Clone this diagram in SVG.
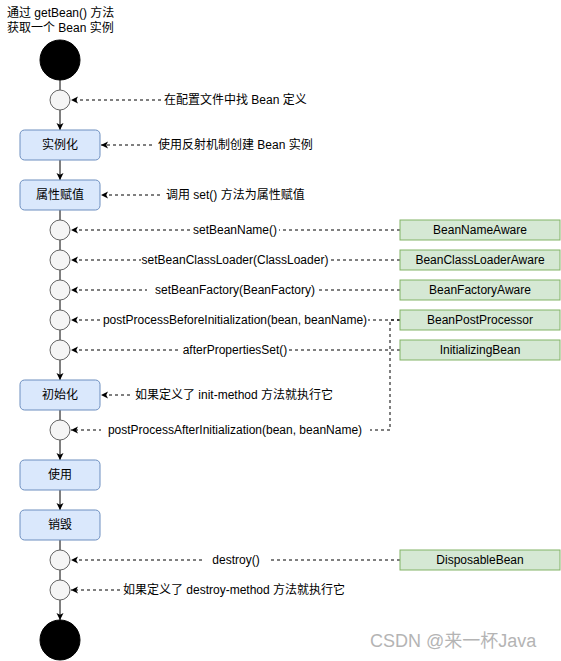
<svg xmlns="http://www.w3.org/2000/svg" width="561" height="661" viewBox="0 0 561 661">
<style>
text{font-family:"Liberation Sans","Noto Sans CJK SC",sans-serif;font-size:12px;fill:#000}
.c{text-anchor:middle}
.box{fill:#dae8fc;stroke:#6c8ebf;stroke-width:1}
.grn{fill:#d5e8d4;stroke:#82b366;stroke-width:1}
.pt{fill:#f5f5f5;stroke:#666666;stroke-width:1}
.blk{fill:#000;stroke:#000}
.ln{fill:none;stroke:#000;stroke-width:1}
.ds{fill:none;stroke:#000;stroke-width:1;stroke-dasharray:3 3}
.bg{fill:#fff}
.wm{font-size:18px;fill:#b4b4b4}
</style>
<defs>
<marker id="ar" markerWidth="8" markerHeight="8" refX="7" refY="3.5" orient="auto" markerUnits="userSpaceOnUse">
<path d="M0,0 L7,3.5 L0,7 L1.75,3.5 Z" fill="#000"/>
</marker>
</defs>
<rect width="561" height="661" fill="#fff"/>
<text x="7" y="17">通过 getBean() 方法</text>
<text x="7" y="32">获取一个 Bean 实例</text>
<g id="connectors">
<line class="ln" x1="60" y1="80" x2="60" y2="90"/>
<line class="ln" x1="60" y1="110" x2="60" y2="130" marker-end="url(#ar)"/>
<line class="ln" x1="60" y1="160" x2="60" y2="180" marker-end="url(#ar)"/>
<line class="ln" x1="60" y1="210" x2="60" y2="220"/>
<line class="ln" x1="60" y1="240" x2="60" y2="250"/>
<line class="ln" x1="60" y1="270" x2="60" y2="280"/>
<line class="ln" x1="60" y1="300" x2="60" y2="310"/>
<line class="ln" x1="60" y1="330" x2="60" y2="340"/>
<line class="ln" x1="60" y1="360" x2="60" y2="380" marker-end="url(#ar)"/>
<line class="ln" x1="60" y1="410" x2="60" y2="420"/>
<line class="ln" x1="60" y1="440" x2="60" y2="460" marker-end="url(#ar)"/>
<line class="ln" x1="60" y1="490" x2="60" y2="510" marker-end="url(#ar)"/>
<line class="ln" x1="60" y1="540" x2="60" y2="550"/>
<line class="ln" x1="60" y1="570" x2="60" y2="580"/>
<line class="ln" x1="60" y1="600" x2="60" y2="620" marker-end="url(#ar)"/>
<line class="ds" x1="161" y1="100" x2="71" y2="100" marker-end="url(#ar)"/>
<line class="ds" x1="152" y1="145" x2="101" y2="145" marker-end="url(#ar)"/>
<line class="ds" x1="160" y1="195" x2="101" y2="195" marker-end="url(#ar)"/>
<line class="ds" x1="400" y1="230" x2="71" y2="230" marker-end="url(#ar)"/>
<line class="ds" x1="400" y1="260" x2="71" y2="260" marker-end="url(#ar)"/>
<line class="ds" x1="400" y1="290" x2="71" y2="290" marker-end="url(#ar)"/>
<line class="ds" x1="400" y1="320" x2="71" y2="320" marker-end="url(#ar)"/>
<line class="ds" x1="400" y1="350" x2="71" y2="350" marker-end="url(#ar)"/>
<polyline class="ds" points="400,320 390,320 390,430 71,430" marker-end="url(#ar)"/>
<line class="ds" x1="130" y1="395" x2="101" y2="395" marker-end="url(#ar)"/>
<line class="ds" x1="400" y1="560" x2="71" y2="560" marker-end="url(#ar)"/>
<line class="ds" x1="120" y1="590" x2="71" y2="590" marker-end="url(#ar)"/>
<rect class="bg" x="191" y="222" width="88" height="16"/>
<text class="c" x="235" y="234">setBeanName()</text>
<rect class="bg" x="141" y="252" width="188" height="16"/>
<text class="c" x="235" y="264">setBeanClassLoader(ClassLoader)</text>
<rect class="bg" x="147" y="282" width="172" height="16"/>
<text class="c" x="235" y="294">setBeanFactory(BeanFactory)</text>
<rect class="bg" x="102" y="312" width="266" height="16"/>
<text class="c" x="235" y="324">postProcessBeforeInitialization(bean, beanName)</text>
<rect class="bg" x="181" y="342" width="108" height="16"/>
<text class="c" x="235" y="354">afterPropertiesSet()</text>
<rect class="bg" x="101" y="422" width="269" height="16"/>
<text class="c" x="235" y="434">postProcessAfterInitialization(bean, beanName)</text>
<rect class="bg" x="202" y="552" width="68" height="16"/>
<text class="c" x="236" y="564">destroy()</text>
</g>
<g id="start"><circle class="blk" cx="60" cy="60" r="20"/></g>
<g id="p0"><circle class="pt" cx="60" cy="100" r="10"/></g>
<g id="t0"><text x="164" y="104">在配置文件中找 Bean 定义</text></g>
<g id="instantiate"><rect class="box" x="20" y="130" width="80" height="30" rx="4.5"/><text class="c" x="60" y="149">实例化</text></g>
<g id="t1"><text x="158" y="149">使用反射机制创建 Bean 实例</text></g>
<g id="populate"><rect class="box" x="20" y="180" width="80" height="30" rx="4.5"/><text class="c" x="60" y="199">属性赋值</text></g>
<g id="t2"><text x="166" y="199">调用 set() 方法为属性赋值</text></g>
<g id="p1"><circle class="pt" cx="60" cy="230" r="10"/></g>
<g id="p2"><circle class="pt" cx="60" cy="260" r="10"/></g>
<g id="p3"><circle class="pt" cx="60" cy="290" r="10"/></g>
<g id="p4"><circle class="pt" cx="60" cy="320" r="10"/></g>
<g id="p5"><circle class="pt" cx="60" cy="350" r="10"/></g>
<g id="beanNameAware"><rect class="grn" x="400" y="220" width="160" height="20"/><text class="c" x="480" y="234">BeanNameAware</text></g>
<g id="beanClassLoaderAware"><rect class="grn" x="400" y="250" width="160" height="20"/><text class="c" x="480" y="264">BeanClassLoaderAware</text></g>
<g id="beanFactoryAware"><rect class="grn" x="400" y="280" width="160" height="20"/><text class="c" x="480" y="294">BeanFactoryAware</text></g>
<g id="beanPostProcessor"><rect class="grn" x="400" y="310" width="160" height="20"/><text class="c" x="480" y="324">BeanPostProcessor</text></g>
<g id="initializingBean"><rect class="grn" x="400" y="340" width="160" height="20"/><text class="c" x="480" y="354">InitializingBean</text></g>
<g id="init"><rect class="box" x="20" y="380" width="80" height="30" rx="4.5"/><text class="c" x="60" y="399">初始化</text></g>
<g id="t3"><text x="135" y="399">如果定义了 init-method 方法就执行它</text></g>
<g id="p6"><circle class="pt" cx="60" cy="430" r="10"/></g>
<g id="use"><rect class="box" x="20" y="460" width="80" height="30" rx="4.5"/><text class="c" x="60" y="479">使用</text></g>
<g id="destroyBox"><rect class="box" x="20" y="510" width="80" height="30" rx="4.5"/><text class="c" x="60" y="529">销毁</text></g>
<g id="p7"><circle class="pt" cx="60" cy="560" r="10"/></g>
<g id="p8"><circle class="pt" cx="60" cy="590" r="10"/></g>
<g id="disposableBean"><rect class="grn" x="400" y="550" width="160" height="20"/><text class="c" x="480" y="564">DisposableBean</text></g>
<g id="t4"><text x="123" y="594">如果定义了 destroy-method 方法就执行它</text></g>
<g id="end"><circle class="blk" cx="60" cy="640" r="20"/></g>
<text class="wm" x="370" y="647">CSDN @来一杯Java</text>
</svg>
